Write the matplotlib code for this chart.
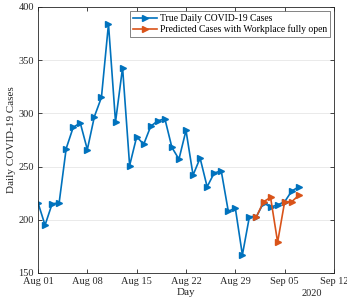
import numpy as np
import pandas as pd
import matplotlib
matplotlib.use('Agg')
import matplotlib.pyplot as plt
import matplotlib.dates as mdates

# daily cases, Aug 01 .. Sep 07
true_cases = [216, 195, 215, 216, 267, 287, 291, 266, 297, 315,
              384, 292, 343, 251, 278, 271, 288, 293, 295, 268,
              257, 284, 242, 258, 231, 244, 246, 208, 211, 167,
              203, 203, 216, 212, 214, 217, 227, 231]
true_days = pd.date_range('2020-08-01', periods=len(true_cases), freq='D')

# prediction, Sep 01 .. Sep 07
pred_cases = [203, 217, 221, 179, 217, 217, 223]
pred_days = pd.date_range('2020-09-01', periods=len(pred_cases), freq='D')

xticks = pd.date_range('2020-08-01', '2020-09-12', freq='7D')
yticks = [150, 200, 250, 300, 350, 400]

plt.rcParams['font.family'] = 'Liberation Serif'
plt.rcParams['font.size'] = 8

blue = '#0072BD'
orange = '#D95319'

fig = plt.figure(figsize=(3.47, 3.01), dpi=100)
ax = fig.add_axes([38/347, 1 - 273/301, (334 - 38)/347, (273 - 7)/301])

ax.plot(true_days, true_cases, '->', color=blue, lw=1.2, ms=4.8,
        label='True Daily COVID-19 Cases')
ax.plot(pred_days, pred_cases, '->', color=orange, lw=1.2, ms=4.8,
        label='Predicted Cases with Workplace fully open')

ax.set_xlim(xticks[0], xticks[-1])
ax.set_ylim(150, 400)
ax.set_xticks(xticks)
ax.xaxis.set_major_formatter(mdates.DateFormatter('%b %d'))
ax.set_yticks(yticks)
ax.yaxis.grid(True, color='#e6e6e6', lw=0.6)
ax.set_axisbelow(True)
ax.tick_params(direction='in', top=True, right=True, length=3, width=0.6,
               colors='#262626', labelsize=7.5, pad=3)
for s in ax.spines.values():
    s.set_linewidth(0.6)
    s.set_color('#262626')

ax.set_xlabel('Day', fontsize=8, labelpad=1, color='#262626')
ax.set_ylabel('Daily COVID-19 Cases', fontsize=8, labelpad=2, color='#262626')
fig.text(312/347, 1 - 294/301, '2020', ha='center', va='center', fontsize=7.5, color='#262626')

leg = ax.legend(loc='upper right', fontsize=6.9, frameon=True, fancybox=False,
                edgecolor='#262626', borderpad=0.3, labelspacing=0.15,
                handlelength=2.5, handletextpad=0.3, borderaxespad=0.45)
leg.get_frame().set_linewidth(0.5)

fig.savefig('out.png', dpi=100)
